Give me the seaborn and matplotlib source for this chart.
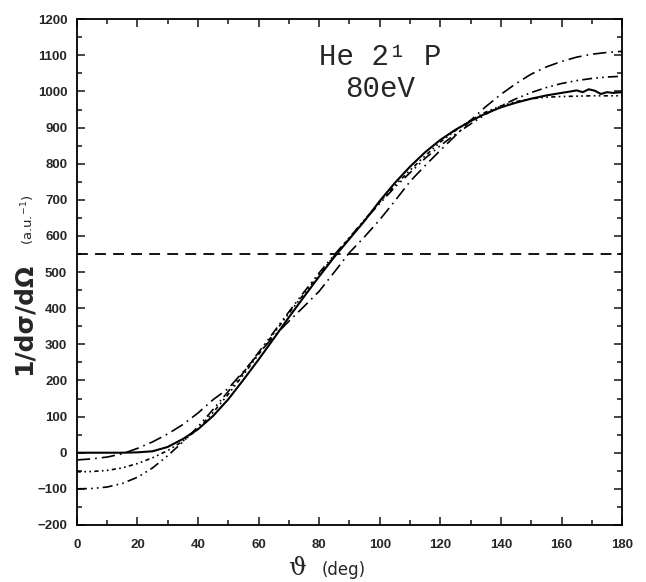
import numpy as np
import pandas as pd
import matplotlib
matplotlib.use("Agg")
import matplotlib.pyplot as plt
import seaborn as sns

# scattering angle (deg)
theta = [0, 5, 10, 15, 20, 25, 30, 35, 40, 45, 50, 55, 60, 65, 70, 75, 80, 85,
         90, 95, 100, 105, 110, 115, 120, 125, 130, 135, 140, 145, 150, 155,
         160, 165, 170, 175, 180]

# solid curve (finer points near the end for the wiggles)
theta_solid = theta[:33] + [163, 165, 167, 169, 171, 173, 175, 177, 180]
solid = [0, 0, 0, 0, 1, 4, 16, 38, 65, 102, 148, 202, 258, 316, 375, 432, 488,
         542, 592, 642, 697, 747, 792, 832, 866, 894, 918, 939, 956, 969, 980,
         989, 996, 1000, 1003, 998, 1006, 1002, 993, 998, 996, 998]

dash_dot = [-20, -17, -12, -3, 12, 30, 52, 78, 110, 147, 178, 225, 274, 322,
            364, 405, 447, 500, 554, 598, 645, 697, 751, 795, 837, 878, 920,
            958, 992, 1022, 1048, 1068, 1083, 1095, 1103, 1108, 1111]

dash_dot_dot = [-100, -99, -95, -85, -68, -42, -8, 30, 72, 120, 170, 222, 278,
                334, 390, 445, 498, 548, 596, 644, 690, 735, 775, 815, 850, 882,
                910, 937, 960, 980, 997, 1011, 1022, 1030, 1036, 1040, 1042]

dotted = [-53, -52, -49, -42, -30, -14, 6, 32, 66, 112, 162, 216, 272, 330, 386,
          440, 493, 545, 595, 645, 694, 740, 782, 822, 860, 892, 920, 943, 960,
          972, 980, 984, 986, 987, 988, 988, 988]

ref_level = 550

sns.set_style("ticks")
plt.rcParams['font.family'] = ['DejaVu Sans']

fig = plt.figure(figsize=(6.46, 5.82), dpi=100)
ax = fig.add_axes([0.119, 0.098, 0.844, 0.869])

sns.lineplot(x=theta_solid, y=solid, color='black', lw=1.5, ax=ax)
sns.lineplot(x=theta, y=dash_dot, color='black', lw=1.2,
             linestyle=(0, (8, 3, 1, 3)), ax=ax)
sns.lineplot(x=theta, y=dash_dot_dot, color='black', lw=1.2,
             linestyle=(0, (6, 2.5, 1, 2.5, 1, 2.5)), ax=ax)
sns.lineplot(x=theta, y=dotted, color='black', lw=1.2,
             linestyle=(0, (2.5, 2, 1, 2, 1, 2)), ax=ax)
ax.plot([0, 180], [ref_level, ref_level], color='black', lw=1.3,
        linestyle=(0, (6, 4)))

ax.set_xlim(0, 180)
ax.set_ylim(-200, 1200)
ax.set_xticks(np.arange(0, 181, 20))
ax.set_xticks(np.arange(10, 180, 20), minor=True)
ax.set_yticks(np.arange(-200, 1201, 100))
ax.set_yticks(np.arange(-150, 1200, 100), minor=True)
ax.tick_params(which='both', direction='in', top=True, right=True,
               width=1.2, labelsize=9.5)
ax.tick_params(which='major', length=5.5)
ax.tick_params(which='minor', length=3.3)
ax.tick_params(axis='x', pad=10)
ax.tick_params(axis='y', pad=7)
for lab in ax.get_xticklabels() + ax.get_yticklabels():
    lab.set_fontweight('bold')
    lab.set_family('Liberation Sans')
for sp in ax.spines.values():
    sp.set_linewidth(1.3)
    sp.set_color('black')

ax.set_xlabel('')
ax.set_ylabel('')

# title inside the plot
ax.text(100, 1095, 'He 2¹ P', family='Liberation Mono', fontsize=21,
        ha='center', va='center')
ax.text(100, 1006, '80eV', family='Liberation Mono', fontsize=21,
        ha='center', va='center')

# axis labels
fig.text(0.036, 0.452, '1/dσ/dΩ', rotation=90, fontsize=18, fontweight='bold',
         ha='center', va='center')
fig.text(0.043, 0.622, r'(a.u.$^{-1}$)', rotation=90, fontsize=9.5,
         ha='center', va='center')
fig.text(0.46, 0.024, 'ϑ', fontsize=18, ha='center', va='center',
         family='DejaVu Serif')
fig.text(0.532, 0.02, '(deg)', fontsize=12, ha='center', va='center')

fig.savefig('out.png', dpi=100)
